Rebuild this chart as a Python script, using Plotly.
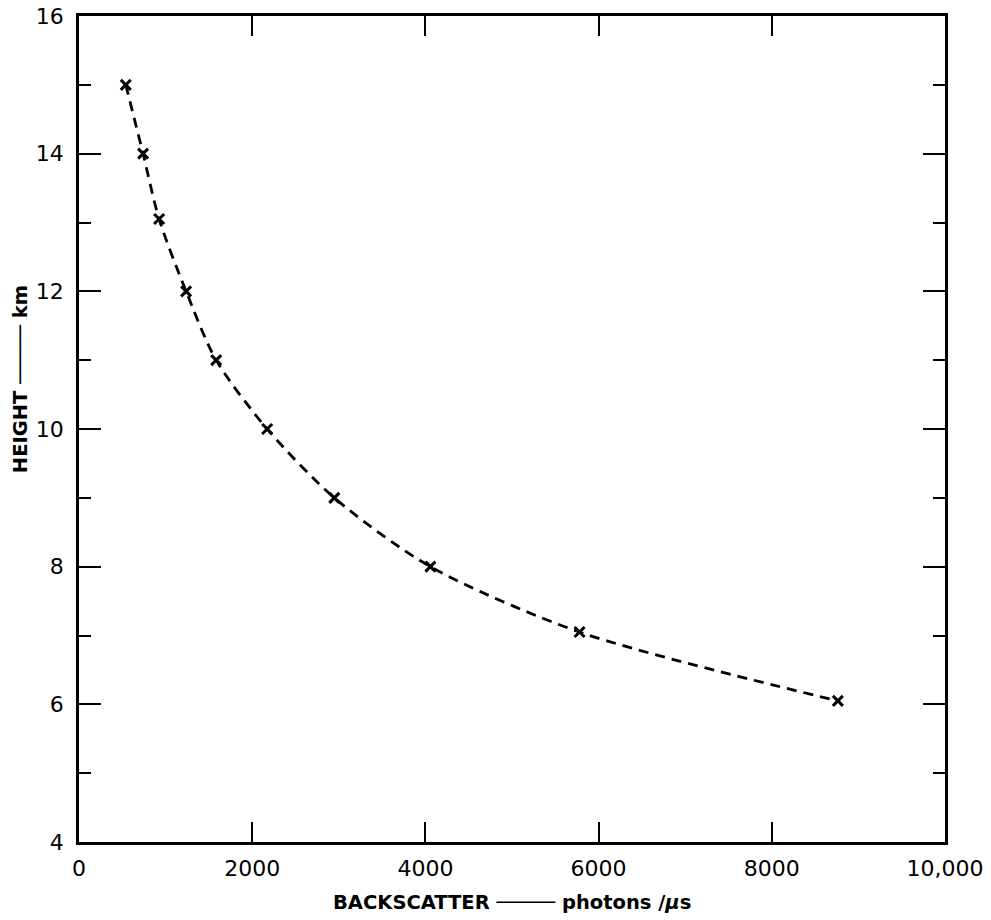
import plotly.graph_objects as go

backscatter = [540, 740, 925, 1237, 1584, 2173, 2948, 4058, 5780, 8763]
height_km = [15.0, 14.0, 13.05, 12.0, 11.0, 10.0, 9.0, 8.0, 7.05, 6.05]

x_tickvals = [0, 2000, 4000, 6000, 8000, 10000]
x_ticktext = ["0", "2000", "4000", "6000", "8000", "10,000"]
y_tickvals = [4, 6, 8, 10, 12, 14, 16]
y_ticktext = ["4", "6", "8", "10", "12", "14", "16"]

FONT = "DejaVu Sans"
RULE = "\u2500" * 5

fig = go.Figure()
fig.add_trace(go.Scatter(
    x=backscatter, y=height_km,
    mode="lines+markers",
    line=dict(color="black", width=2.8, dash="10px,7px", shape="spline", smoothing=0.8),
    marker=dict(symbol="x-thin", size=10, line=dict(color="black", width=3), color="black"),
    showlegend=False,
))

fig.update_layout(
    width=991, height=920,
    margin=dict(l=79, r=46, t=16, b=78),
    paper_bgcolor="white", plot_bgcolor="white",
    font=dict(family=FONT, color="black", size=22),
    xaxis=dict(
        range=[0, 10000], tickvals=x_tickvals, ticktext=x_ticktext,
        showgrid=False, zeroline=False, automargin=False,
        showline=True, linecolor="black", linewidth=2.8, mirror="ticks",
        ticks="inside", ticklen=20, tickwidth=2.2, tickcolor="black",
        tickfont=dict(size=22, family=FONT), ticklabelstandoff=5,
    ),
    yaxis=dict(
        range=[4, 16], tickvals=y_tickvals, ticktext=y_ticktext,
        showgrid=False, zeroline=False, automargin=False,
        showline=True, linecolor="black", linewidth=2.8, mirror="ticks",
        ticks="inside", ticklen=22, tickwidth=2.2, tickcolor="black",
        tickfont=dict(size=22, family=FONT), ticklabelstandoff=8,
        minor=dict(tickvals=[5, 7, 9, 11, 13, 15], ticks="inside", ticklen=12,
                   tickwidth=2.2, tickcolor="black", showgrid=False),
    ),
    annotations=[
        dict(text="<b>BACKSCATTER " + RULE + " photons /<i>μ</i>s</b>", xref="paper", yref="paper",
             x=0.5, y=-0.0738, xanchor="center", yanchor="middle", showarrow=False,
             font=dict(size=19.5, family=FONT, color="black")),
        dict(text="<b>HEIGHT " + RULE + " km</b>", xref="paper", yref="paper",
             x=-0.068, y=0.5605, xanchor="center", yanchor="middle", showarrow=False,
             textangle=-90, font=dict(size=19.5, family=FONT, color="black")),
    ],
)

fig.write_html("out.html")
